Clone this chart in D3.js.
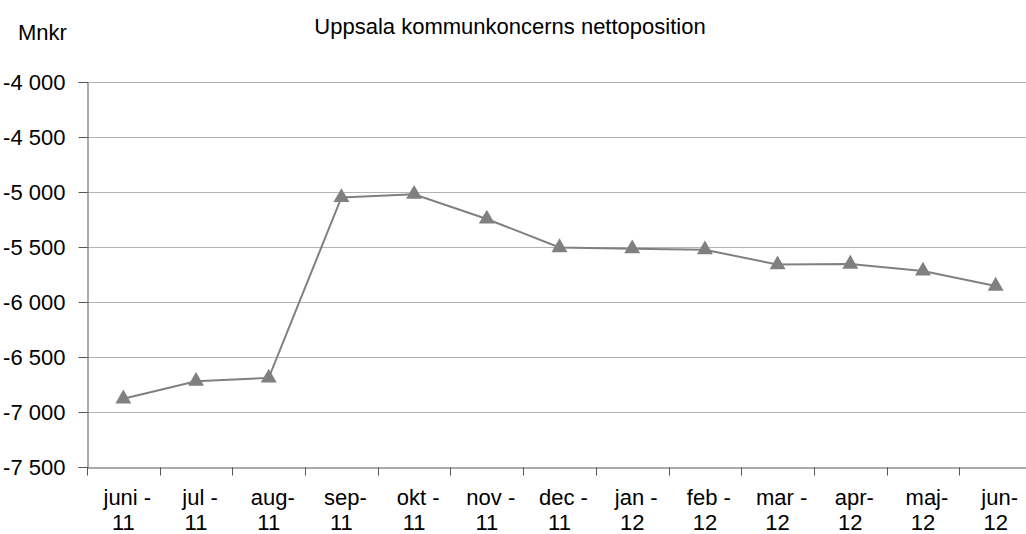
<!DOCTYPE html>
<html>
<head>
<meta charset="utf-8">
<script src="https://cdn.jsdelivr.net/npm/d3@7"></script>
<style>
  body { margin: 0; background: #fff; }
  text { font-family: "Liberation Sans", Arial, sans-serif; }
</style>
</head>
<body>
<svg id="root" width="1026" height="534"></svg>
<script>
const months = ["juni -", "jul -", "aug-", "sep-", "okt -", "nov -", "dec -", "jan -", "feb -", "mar -", "apr-", "maj-", "jun-"];
const years = ["11", "11", "11", "11", "11", "11", "11", "12", "12", "12", "12", "12", "12"];
const values = [-6880, -6720, -6690, -5050, -5020, -5245, -5505, -5515, -5525, -5660, -5655, -5718, -5855];
const yTicks = [-4000, -4500, -5000, -5500, -6000, -6500, -7000, -7500];

const svg = d3.select("#root");

const margin = { top: 82, left: 87, bottom: 467, right: 1032 };

const x = d3.scaleBand()
    .domain(d3.range(months.length))
    .range([margin.left, margin.right]);

const y = d3.scaleLinear()
    .domain([-7500, -4000])
    .range([margin.bottom, margin.top]);

const fmt = d3.formatLocale({ decimal: ",", thousands: " ", grouping: [3], currency: ["", " kr"], minus: "-" }).format(",d");

// gridlines
svg.append("g")
    .selectAll("line")
    .data(yTicks.filter(d => d !== -7500))
    .join("line")
    .attr("x1", margin.left)
    .attr("x2", margin.right)
    .attr("y1", d => Math.round(y(d)) + 0.5)
    .attr("y2", d => Math.round(y(d)) + 0.5)
    .attr("stroke", "#b3b3b3")
    .attr("stroke-width", 1);

// y axis
const yAxis = d3.axisLeft(y).tickValues(yTicks).tickFormat(fmt).tickSize(9).tickPadding(13);
svg.append("g")
    .attr("transform", `translate(${margin.left + 0.5},0)`)
    .call(yAxis)
    .call(g => g.select(".domain").attr("stroke", "#555"))
    .call(g => g.selectAll(".tick line").attr("stroke", "#555"))
    .call(g => g.selectAll("text").attr("font-size", 22).attr("fill", "#000")
        .attr("font-family", "'Liberation Sans', Arial, sans-serif"));

// x axis
const xAxis = d3.axisBottom(x).tickSize(0).tickFormat("");
const gx = svg.append("g")
    .attr("transform", `translate(0,${Math.round(margin.bottom) + 0.5})`)
    .call(xAxis)
    .call(g => g.select(".domain").attr("stroke", "#555"));

gx.selectAll(".sep")
    .data(d3.range(months.length + 1))
    .join("line")
    .attr("class", "sep")
    .attr("x1", i => Math.round(margin.left + i * x.step()) + 0.5)
    .attr("x2", i => Math.round(margin.left + i * x.step()) + 0.5)
    .attr("y1", 0)
    .attr("y2", 8)
    .attr("stroke", "#555");

const lbl = svg.append("g").attr("font-size", 22).attr("text-anchor", "middle");
lbl.selectAll("text")
    .data(months)
    .join("text")
    .attr("x", (d, i) => x(i) + x.bandwidth() / 2 + 4)
    .attr("y", 505)
    .text(d => d)
    .append("tspan")
    .attr("x", (d, i) => x(i) + x.bandwidth() / 2)
    .attr("dy", 25)
    .text((d, i) => years[i]);

// line
const line = d3.line()
    .x((d, i) => x(i) + x.bandwidth() / 2)
    .y(d => y(d));

svg.append("path")
    .datum(values)
    .attr("d", line)
    .attr("fill", "none")
    .attr("stroke", "#808080")
    .attr("stroke-width", 2);

svg.append("g")
    .selectAll("path")
    .data(values)
    .join("path")
    .attr("d", d3.symbol(d3.symbolTriangle, 110))
    .attr("transform", (d, i) => `translate(${x(i) + x.bandwidth() / 2},${y(d)})`)
    .attr("fill", "#808080");

svg.append("text")
    .attr("x", 510)
    .attr("y", 34)
    .attr("text-anchor", "middle")
    .attr("font-size", 22)
    .text("Uppsala kommunkoncerns nettoposition");

svg.append("text")
    .attr("x", 18)
    .attr("y", 40)
    .attr("font-size", 22)
    .text("Mnkr");
</script>
</body>
</html>
